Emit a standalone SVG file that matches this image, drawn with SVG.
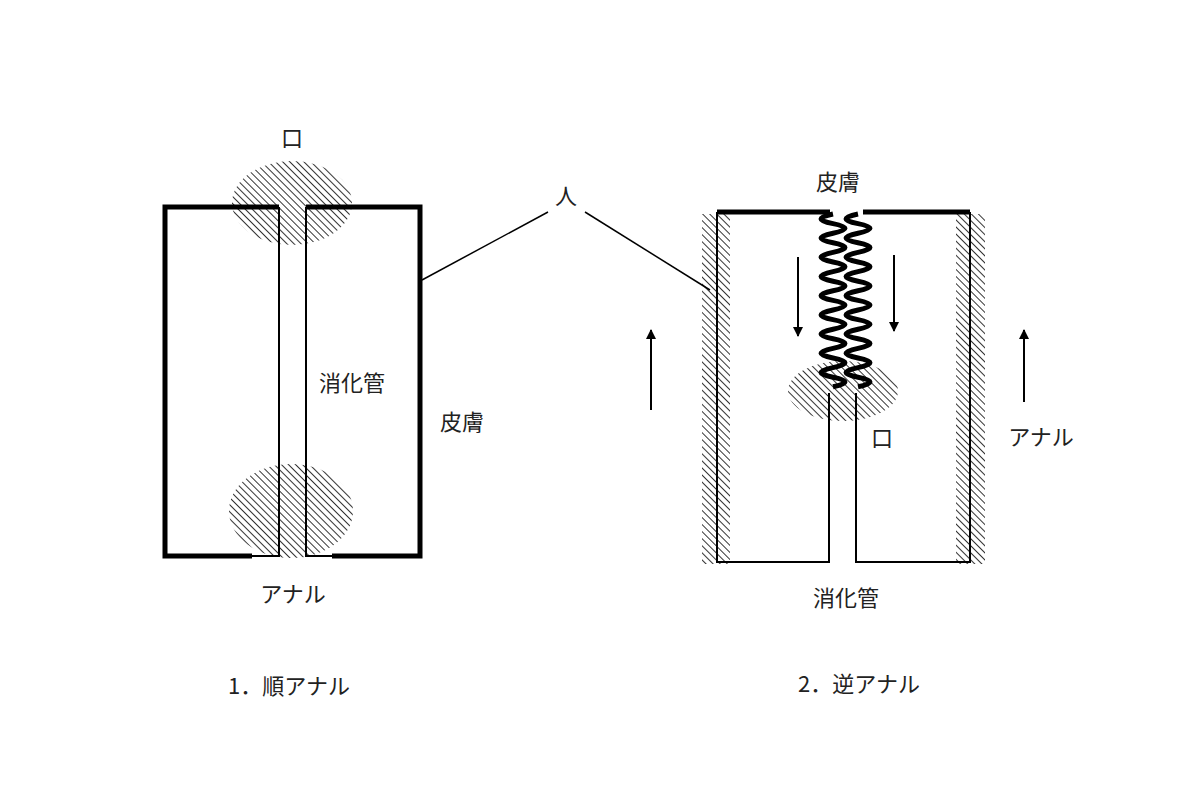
<svg xmlns="http://www.w3.org/2000/svg" width="1200" height="792" viewBox="0 0 1200 792">
<defs>
<pattern id="h" width="5" height="5" patternUnits="userSpaceOnUse" patternTransform="rotate(-45)">
<line x1="0" y1="0" x2="0" y2="5" stroke="#000" stroke-width="1.6"/>
</pattern>
<marker id="a" viewBox="0 0 10 10" refX="9" refY="5" markerWidth="5" markerHeight="5" orient="auto"><path d="M0,0 L10,5 L0,10 Z" fill="#000"/></marker>
<style>
text{font-family:"Noto Sans CJK JP","Liberation Serif",serif;font-size:22px;fill:#222;text-anchor:middle}
.th{stroke:#000;stroke-width:5;fill:none}
.tn{stroke:#000;stroke-width:2;fill:none}
.ar{stroke:#000;stroke-width:2;marker-end:url(#a)}
.coil{stroke:#000;stroke-width:5;fill:none}
</style>
</defs>
<rect width="1200" height="792" fill="#fff"/>
<g id="left">
<ellipse cx="292" cy="203" rx="60" ry="42" fill="url(#h)"/>
<ellipse cx="291" cy="511" rx="62" ry="47" fill="url(#h)"/>
<path class="th" d="M279,207 H165 V556 H252 M306,207 H420 V556 H332"/>
<path class="tn" d="M279,207 V556 H252 M306,207 V556 H332"/>
</g>
<g id="right">
<rect x="702" y="214" width="28" height="350" fill="url(#h)"/>
<rect x="956" y="214" width="29" height="350" fill="url(#h)"/>
<ellipse cx="843" cy="391" rx="55" ry="30" fill="url(#h)"/>
<path class="th" d="M717,212 H830 M863,212 H970"/>
<path class="tn" d="M717,212 V562 H829 V393 M856,393 V562 H970 V212"/>
<path class="coil" d="M833,214 q-24,5 0,9.6 t0,9.6 t0,9.6 t0,9.6 t0,9.6 t0,9.6 t0,9.6 t0,9.6 t0,9.6 t0,9.6 t0,9.6 t0,9.6 t0,9.6 t0,9.6 t0,9.6 t0,9.6 t0,9.6 t0,9.6"/>
<path class="coil" d="M858,214 q-24,5 0,9.6 t0,9.6 t0,9.6 t0,9.6 t0,9.6 t0,9.6 t0,9.6 t0,9.6 t0,9.6 t0,9.6 t0,9.6 t0,9.6 t0,9.6 t0,9.6 t0,9.6 t0,9.6 t0,9.6 t0,9.6"/>
</g>
<g id="connectors">
<line x1="422" y1="280" x2="548" y2="212" stroke="#000" stroke-width="1.5"/>
<line x1="585" y1="212" x2="710" y2="290" stroke="#000" stroke-width="1.5"/>
<line class="ar" x1="798" y1="257" x2="798" y2="336"/>
<line class="ar" x1="894" y1="255" x2="894" y2="331"/>
<line class="ar" x1="651" y1="410" x2="651" y2="330"/>
<line class="ar" x1="1024" y1="402" x2="1024" y2="330"/>
</g>
<g id="labels">
<text x="292" y="146">口</text>
<text x="352" y="391">消化管</text>
<text x="462" y="430">皮膚</text>
<text x="293" y="602">アナル</text>
<text x="289" y="694">1．順アナル</text>
<text x="566" y="204">人</text>
<text x="838" y="190">皮膚</text>
<text x="882" y="446">口</text>
<text x="1041" y="445">アナル</text>
<text x="846" y="606">消化管</text>
<text x="859" y="692">2．逆アナル</text>
</g>
</svg>
